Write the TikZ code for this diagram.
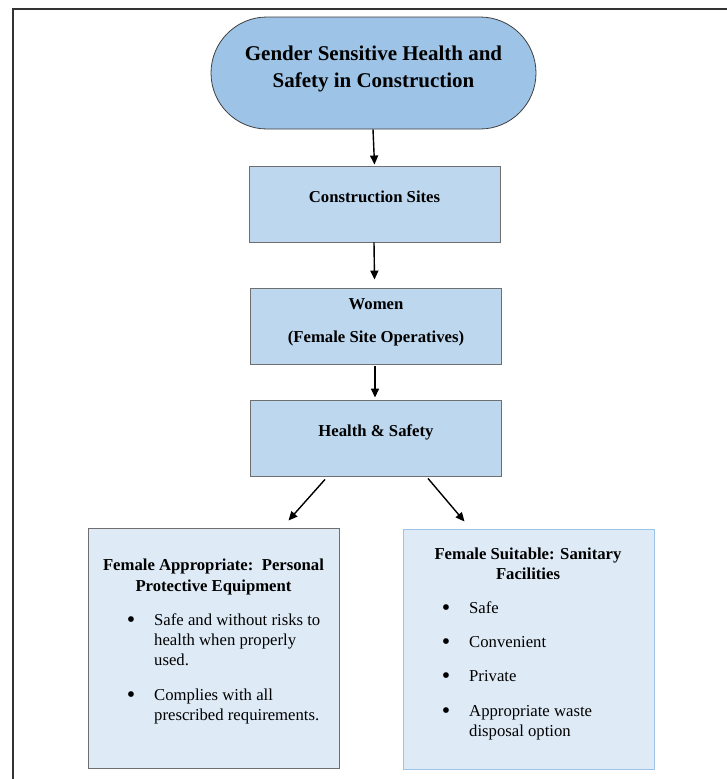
\documentclass[tikz,border=0pt]{standalone}
\usepackage{fontspec}
\setmainfont{Liberation Serif}
\usetikzlibrary{arrows.meta}
\definecolor{pillfill}{HTML}{9DC3E6}
\definecolor{boxfill}{HTML}{BDD7EE}
\definecolor{lightfill}{HTML}{DEEBF7}
\definecolor{boxline}{HTML}{6F6F6F}
\definecolor{blueline}{HTML}{9DC3E6}
\tikzset{
  flowbox/.style={draw=boxline, fill=boxfill, line width=0.9pt, inner sep=0pt},
  bigbox/.style={fill=lightfill, line width=1pt, inner sep=0pt},
  flowarrow/.style={line width=1.4pt, -{Triangle[length=9pt,width=8pt]}},
  titletxt/.style={font=\fontsize{21}{27}\selectfont\bfseries, inner sep=0pt, anchor=base},
  boldtxt/.style={font=\fontsize{16.7}{20}\selectfont\bfseries, inner sep=0pt, anchor=base},
  bodytxt/.style={font=\fontsize{16.7}{20}\selectfont, inner sep=0pt, anchor=base west},
  bullettxt/.style={font=\fontsize{24}{20}\selectfont, inner sep=0pt, anchor=base},
}
\begin{document}
\begin{tikzpicture}[x=1pt,y=-1pt]
\useasboundingbox (0,0) rectangle (727,779);
% frame
\draw[line width=1.2pt, draw=black!80] (13,779) -- (13,9) -- (727,9);
% pill
\node[draw=black!75, fill=pillfill, line width=0.8pt, rounded corners=56pt,
      minimum width=325pt, minimum height=112pt, inner sep=0pt] (top) at (373.5,73) {};
\node[titletxt] (toptxt1) at (373.5,60) {Gender Sensitive Health and};
\node[titletxt] (toptxt2) at (373.5,87) {Safety in Construction};
% flow boxes
\node[flowbox, minimum width=251pt, minimum height=76pt] (cs) at (374.5,204) {};
\node[boldtxt] (cstxt) at (374.5,202) {Construction Sites};
\node[flowbox, minimum width=251pt, minimum height=76pt] (wo) at (376,326) {};
\node[boldtxt] (wotxt1) at (376,309) {Women};
\node[boldtxt] (wotxt2) at (376,342) {(Female Site Operatives)};
\node[flowbox, minimum width=251pt, minimum height=76pt] (hs) at (376,438) {};
\node[boldtxt] (hstxt) at (376,436) {Health \& Safety};
% bottom boxes
\node[bigbox, draw=boxline, minimum width=251pt, minimum height=240pt] (ppe) at (213.5,648) {};
\node[bigbox, draw=blueline, minimum width=251pt, minimum height=240pt] (san) at (528.5,649) {};
% left box text
\node[boldtxt] (ppet1) at (213.5,570) {Female Appropriate:\, Personal};
\node[boldtxt] (ppet2) at (213.5,591) {Protective Equipment};
\node[bullettxt] (pb1) at (131,627) {•};
\node[bodytxt] (pl1) at (154,625) {Safe and without risks to};
\node[bodytxt] (pl2) at (154,645) {health when properly};
\node[bodytxt] (pl3) at (154,665) {used.};
\node[bullettxt] (pb2) at (131,702) {•};
\node[bodytxt] (pl4) at (154,700) {Complies with all};
\node[bodytxt] (pl5) at (154,720) {prescribed requirements.};
% right box text
\node[boldtxt] (sant1) at (528,559) {Female Suitable: Sanitary};
\node[boldtxt] (sant2) at (528,579) {Facilities};
\node[bullettxt] (sb1) at (446,615) {•};
\node[bodytxt] (sl1) at (469,613) {Safe};
\node[bullettxt] (sb2) at (446,649) {•};
\node[bodytxt] (sl2) at (469,647) {Convenient};
\node[bullettxt] (sb3) at (446,683) {•};
\node[bodytxt] (sl3) at (469,681) {Private};
\node[bullettxt] (sb4) at (446,718) {•};
\node[bodytxt] (sl4) at (469,716) {Appropriate waste};
\node[bodytxt] (sl5) at (469,736) {disposal option};
% arrows
\draw[flowarrow] ([xshift=-0.5pt]top.south) -- ([yshift=1pt]cs.north);
\draw[flowarrow] ([xshift=-0.5pt]cs.south) -- ([xshift=-1.5pt,yshift=8pt]wo.north);
\draw[flowarrow] ([xshift=-1pt,yshift=-2pt]wo.south) -- ([xshift=-1pt,yshift=2pt]hs.north);
\draw[flowarrow] ([xshift=-51pt,yshift=-3pt]hs.south) -- ([xshift=75pt,yshift=7pt]ppe.north);
\draw[flowarrow] ([xshift=52pt,yshift=-2pt]hs.south) -- ([xshift=-64pt,yshift=7pt]san.north);
\end{tikzpicture}
\end{document}
